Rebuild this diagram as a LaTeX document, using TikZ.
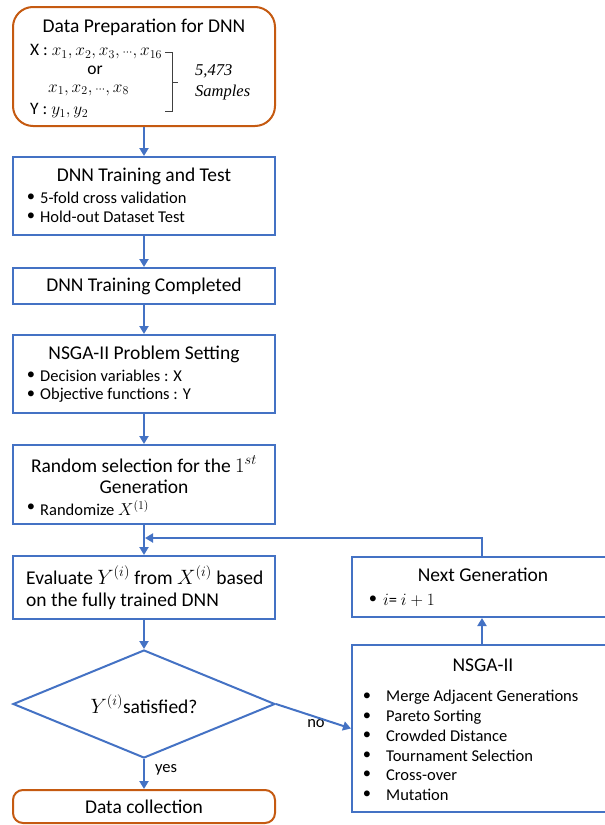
\documentclass[tikz,border=0pt]{standalone}
\usepackage{fontspec}
\setmainfont{Carlito}
\newfontfamily\serifit{Liberation Serif}
\usetikzlibrary{arrows.meta,shapes.geometric}
\definecolor{bblue}{RGB}{68,114,196}
\definecolor{borange}{RGB}{197,90,17}
\begin{document}
\begin{tikzpicture}[x=1pt,y=-1pt,
  box/.style={draw=bblue,line width=2pt,rectangle,inner sep=0pt},
  rbox/.style={draw=borange,line width=2pt,rectangle,rounded corners=20pt,inner sep=0pt},
  ttl/.style={font=\fontsize{19.5}{23}\selectfont,inner sep=0pt},
  txt/.style={font=\fontsize{16.5}{19}\selectfont,inner sep=0pt,anchor=west},
  vtx/.style={font=\fontsize{17.5}{20}\selectfont,inner sep=0pt,anchor=west},
  blt/.style={font=\fontsize{16.5}{19}\selectfont,inner sep=0pt},
  arr/.style={draw=bblue,line width=2pt,-{Triangle[width=9pt,length=8pt]}},
  lin/.style={draw=bblue,line width=2pt}]
\useasboundingbox (0,0) rectangle (605,825);
% boxes
\node[rbox,minimum width=262pt,minimum height=119pt] (b1) at (144,66.5) {};
\node[box,minimum width=262pt,minimum height=78pt] (b2) at (144,196) {};
\node[box,minimum width=262pt,minimum height=36pt] (b3) at (144,286) {};
\node[box,minimum width=262pt,minimum height=78pt] (b4) at (144,374) {};
\node[box,minimum width=262pt,minimum height=79pt] (b5) at (144,484.5) {};
\node[box,minimum width=262pt,minimum height=63pt] (b6) at (144,587.5) {};
\node[draw=bblue,line width=2pt,diamond,aspect=2.43,minimum width=262pt,minimum height=108pt,inner sep=0pt] (d) at (144,704) {};
\node[rbox,rounded corners=10pt,minimum width=262pt,minimum height=33pt] (b7) at (144,806.5) {};
\node[box,minimum width=260pt,minimum height=60pt] (ng) at (482,587) {};
\node[box,minimum width=260pt,minimum height=167pt] (ns) at (482,728.5) {};
% texts box1
\node[ttl] (t1) at (144,27) {Data Preparation for DNN};
\node[vtx] (x1) at (30,52) {X : $x_1, x_2, x_3,{\scriptstyle\cdots}, x_{16}$};
\node[vtx,anchor=center] (or) at (95,70) {or};
\node[vtx] (x2) at (48,90) {$x_1, x_2,{\scriptstyle\cdots}, x_8$};
\node[vtx] (y1) at (30,111) {Y : $y_1, y_2$};
\draw[line width=1pt,draw=black!75] (165,52) -- (172,52) -- (172,111) -- (165,111) (172,82) -- (178,82);
\node[font=\serifit\itshape\fontsize{16.5}{21}\selectfont,align=left,inner sep=0pt,anchor=west] (smp) at (195,82) {5,473\\Samples};
% box2
\node[ttl] (t2) at (144,176) {DNN Training and Test};
\node[blt] (k1) at (31,198) {\textbullet};
\node[txt] (s1) at (40,198) {5-fold cross validation};
\node[blt] (k2) at (31,217) {\textbullet};
\node[txt] (s2) at (40,217) {Hold-out Dataset Test};
% box3
\node[ttl] (t3) at (144,286) {DNN Training Completed};
% box4
\node[ttl] (t4) at (144,354) {NSGA-II Problem Setting};
\node[blt] (k3) at (31,376) {\textbullet};
\node[txt] (s3) at (40,376) {Decision variables : X};
\node[blt] (k4) at (31,395) {\textbullet};
\node[txt] (s4) at (40,395) {Objective functions : Y};
% box5
\node[ttl] (t5) at (144,464) {Random selection for the $1^{st}$};
\node[ttl] (t5b) at (144,487) {Generation};
\node[blt] (k5) at (31,508) {\textbullet};
\node[txt] (s5) at (40,508) {Randomize $X^{(1)}$};
% box6
\node[ttl,anchor=west] (t6) at (26,575) {Evaluate $Y^{(i)}$ from $X^{(i)}$ based};
\node[ttl,anchor=west] (t6b) at (26,601) {on the fully trained DNN};
% diamond
\node[ttl] (td) at (144,704) {$Y^{(i)}$satisfied?};
\node[blt] (yes) at (166,770) {yes};
\node[blt] (no) at (316,724) {no};
% data collection
\node[ttl] (t7) at (144,807) {Data collection};
% next gen
\node[ttl] (t8) at (483,575) {Next Generation};
\node[blt] (k8) at (373,600) {\textbullet};
\node[txt] (s8) at (383,600) {$i$= $i+1$};
% nsga
\node[ttl] (t9) at (483,665) {NSGA-II};
\foreach \y/\s [count=\n] in {697/Merge Adjacent Generations,717/Pareto Sorting,736/Crowded Distance,756/Tournament Selection,775/Cross-over,795/Mutation}{
  \node[blt] (kb\n) at (367,\y) {\textbullet};
  \node[txt] (sb\n) at (386,\y) {\s};
}
% connectors
\draw[arr] (b1.south) -- (b2.north);
\draw[arr] (b2.south) -- (b3.north);
\draw[arr] (b3.south) -- (b4.north);
\draw[arr] (b4.south) -- (b5.north);
\draw[arr] (b5.south) -- (b6.north);
\draw[arr] (b6.south) -- (d.north);
\draw[arr] (d.south) -- (b7.north);
\draw[arr] (d.east) -- (ns.west);
\draw[arr] (ns.north -| ng.south) -- (ng.south);
\coordinate (lp) at (145,538);
\draw[arr] (ng.north) |- (lp);
\end{tikzpicture}
\end{document}
